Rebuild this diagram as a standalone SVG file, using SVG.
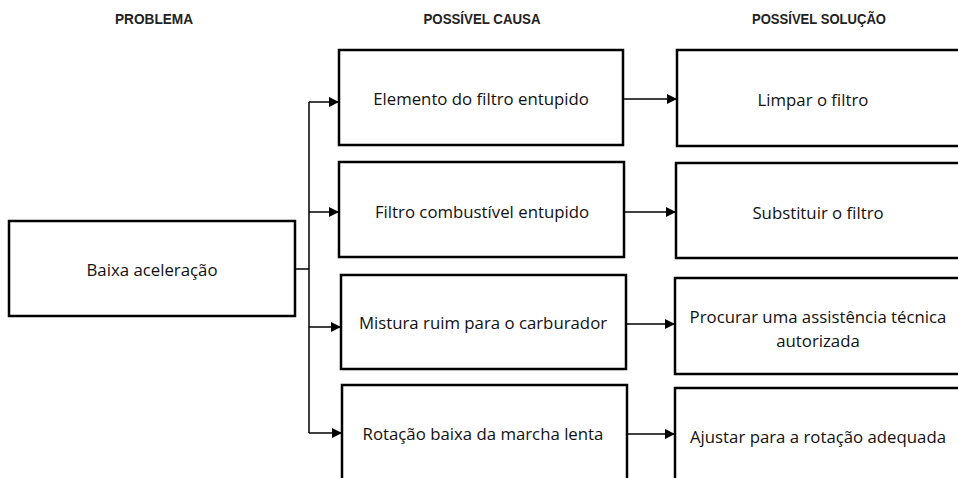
<svg xmlns="http://www.w3.org/2000/svg" width="958" height="478" viewBox="0 0 958 478">
<style>
.box{fill:#fff;stroke:#000;stroke-width:2.5}
.hdr{font-family:"Liberation Sans",Arial,sans-serif;font-weight:bold;font-size:14px;fill:#222;text-anchor:middle}
.lbl{font-family:"Open Sans","Noto Sans",sans-serif;font-size:16.8px;fill:#111;text-anchor:middle;dominant-baseline:central}
.con{fill:none;stroke:#000;stroke-width:1.5}
</style>
<defs>
<marker id="ah" markerUnits="userSpaceOnUse" viewBox="0 0 10 10" refX="10" refY="5" markerWidth="10" markerHeight="10" orient="auto">
<path d="M0,0 L10,5 L0,10 z" fill="#000"/>
</marker>
</defs>
<rect width="958" height="478" fill="#fff"/>
<g id="headers">
<text class="hdr" x="154" y="24" textLength="78" lengthAdjust="spacingAndGlyphs">PROBLEMA</text>
<text class="hdr" x="482" y="24" textLength="117" lengthAdjust="spacingAndGlyphs">POSSÍVEL CAUSA</text>
<text class="hdr" x="819" y="24" textLength="134" lengthAdjust="spacingAndGlyphs">POSSÍVEL SOLUÇÃO</text>
</g>
<g id="connectors">
<path class="con" d="M295,269 H309 M309,102 V433"/>
<line class="con" x1="309" y1="102" x2="339" y2="102" marker-end="url(#ah)"/>
<line class="con" x1="309" y1="212" x2="339" y2="212" marker-end="url(#ah)"/>
<line class="con" x1="309" y1="327" x2="341" y2="327" marker-end="url(#ah)"/>
<line class="con" x1="309" y1="433" x2="342" y2="433" marker-end="url(#ah)"/>
<line class="con" x1="623" y1="99" x2="677" y2="99" marker-end="url(#ah)"/>
<line class="con" x1="624" y1="212" x2="676" y2="212" marker-end="url(#ah)"/>
<line class="con" x1="626" y1="324" x2="675" y2="324" marker-end="url(#ah)"/>
<line class="con" x1="627" y1="434" x2="675" y2="434" marker-end="url(#ah)"/>
</g>
<g id="problem">
<rect class="box" x="9" y="221" width="286" height="95"/>
<text class="lbl" x="152" y="269">Baixa aceleração</text>
</g>
<g id="cause1">
<rect class="box" x="339" y="50" width="284" height="95"/>
<text class="lbl" x="481" y="98">Elemento do filtro entupido</text>
</g>
<g id="cause2">
<rect class="box" x="339" y="162" width="285" height="95"/>
<text class="lbl" x="482" y="211">Filtro combustível entupido</text>
</g>
<g id="cause3">
<rect class="box" x="341" y="275" width="285" height="94"/>
<text class="lbl" x="483" y="322">Mistura ruim para o carburador</text>
</g>
<g id="cause4">
<rect class="box" x="342" y="385" width="285" height="120"/>
<text class="lbl" x="483" y="433">Rotação baixa da marcha lenta</text>
</g>
<g id="solution1">
<rect class="box" x="677" y="50" width="300" height="96"/>
<text class="lbl" x="813" y="99">Limpar o filtro</text>
</g>
<g id="solution2">
<rect class="box" x="676" y="163" width="300" height="95"/>
<text class="lbl" x="818" y="212">Substituir o filtro</text>
</g>
<g id="solution3">
<rect class="box" x="675" y="278" width="300" height="96"/>
<text class="lbl" x="818" y="316">Procurar uma assistência técnica</text>
<text class="lbl" x="818" y="340">autorizada</text>
</g>
<g id="solution4">
<rect class="box" x="675" y="388" width="300" height="120"/>
<text class="lbl" x="818" y="436">Ajustar para a rotação adequada</text>
</g>
</svg>
